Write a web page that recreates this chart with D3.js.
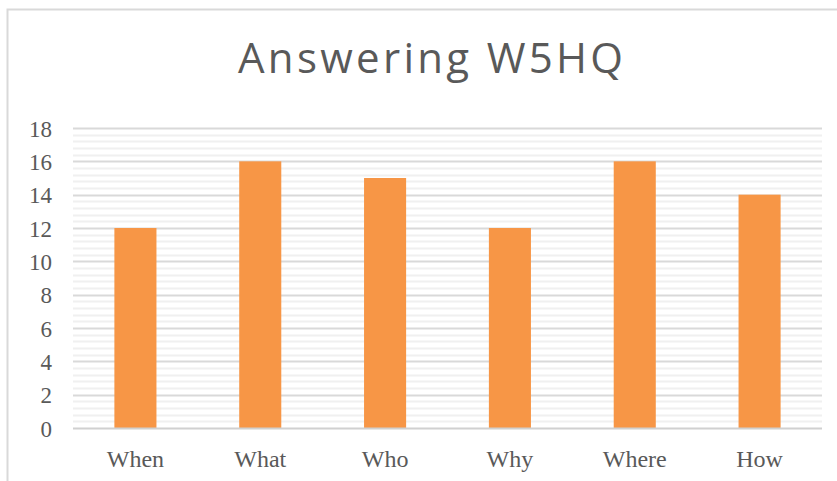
<!DOCTYPE html>
<html lang="en">
<head>
<meta charset="utf-8">
<title>Answering W5HQ</title>
<script src="https://cdn.jsdelivr.net/npm/d3@7"></script>
<style>
    html, body { margin: 0; padding: 0; background: #fff; }
    #chart text { fill: #595959; }
    .title { font-family: "Open Sans", "Noto Sans", sans-serif; font-weight: 400; }
    .axis text { font-family: "Liberation Serif", "DejaVu Serif", serif; }
</style>
</head>
<body>
<div id="chart"></div>
<script>
    "use strict"

    var categories = ["When", "What", "Who", "Why", "Where", "How"];
    var values = [12, 16, 15, 12, 16, 14];
    var yTicks = [0, 2, 4, 6, 8, 10, 12, 14, 16, 18];

    var width = 837, height = 481;
    var plot = { left: 73, right: 822, top: 128, bottom: 428 };

    var svg = d3.select("#chart")
        .append("svg")
        .attr("width", width)
        .attr("height", height);

    // frame (only top and left edges show in the crop)
    svg.append("path")
        .attr("d", "M7.5," + height + "V9.5H" + width)
        .attr("fill", "none")
        .attr("stroke", "#d9d9d9")
        .attr("stroke-width", 2);

    var x = d3.scaleBand()
        .domain(categories)
        .range([plot.left, plot.right])
        .paddingInner(0.663)
        .paddingOuter(0.3315);

    var y = d3.scaleLinear()
        .domain([0, 18])
        .range([plot.bottom, plot.top]);

    // minor gridlines every 0.4
    var minor = d3.range(0, 18.001, 0.4).filter(v => Math.abs(v / 2 - Math.round(v / 2)) > 0.01);
    svg.append("g")
        .selectAll("line")
        .data(minor)
        .enter()
        .append("line")
        .attr("x1", plot.left)
        .attr("x2", plot.right)
        .attr("y1", d => Math.round(y(d)) + 0.5)
        .attr("y2", d => Math.round(y(d)) + 0.5)
        .attr("stroke", "#f0f0f0")
        .attr("stroke-width", 2);

    // major gridlines
    svg.append("g")
        .selectAll("line")
        .data(yTicks.filter(d => d > 0))
        .enter()
        .append("line")
        .attr("x1", plot.left)
        .attr("x2", plot.right)
        .attr("y1", d => Math.round(y(d)) + 0.5)
        .attr("y2", d => Math.round(y(d)) + 0.5)
        .attr("stroke", "#d9d9d9")
        .attr("stroke-width", 2);

    svg.append("g")
        .selectAll("rect")
        .data(values)
        .enter()
        .append("rect")
        .attr("x", (d, i) => x(categories[i]))
        .attr("width", x.bandwidth())
        .attr("y", d => y(d))
        .attr("height", d => y(0) - y(d))
        .attr("fill", "#f79646");

    // category axis
    var xAxis = svg.append("g")
        .attr("class", "axis")
        .attr("transform", "translate(0," + plot.bottom + ")")
        .call(d3.axisBottom(x).tickSize(0).tickPadding(22));
    xAxis.select(".domain")
        .attr("d", "M" + plot.left + ",0.5H" + plot.right)
        .attr("stroke", "#d0d0d0")
        .attr("stroke-width", 2);
    xAxis.selectAll("text")
        .attr("font-size", 24)
        .attr("dy", "0.71em");

    // value axis
    var yAxis = svg.append("g")
        .attr("class", "axis")
        .attr("transform", "translate(" + plot.left + ",0)")
        .call(d3.axisLeft(y).tickValues(yTicks).tickSize(0).tickPadding(21));
    yAxis.select(".domain").remove();
    yAxis.selectAll("text")
        .attr("font-size", 23)
        .attr("dy", "0.36em");

    svg.append("text")
        .attr("class", "title")
        .attr("x", 238)
        .attr("y", 73)
        .attr("font-size", 42)
        .attr("textLength", 385)
        .attr("lengthAdjust", "spacing")
        .text("Answering W5HQ");
</script>
</body>
</html>
